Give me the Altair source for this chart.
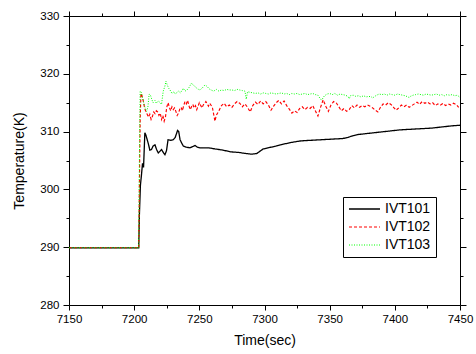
import altair as alt
import pandas as pd

series_names = ["IVT101", "IVT102", "IVT103"]
series_colors = ["#000000", "#ff0000", "#00ff00"]
series_dash = [[1, 0], [3, 2], [1, 1.5]]
series_width = [1.3, 1.0, 1.0]

x_tick_values = [7150, 7175, 7200, 7225, 7250, 7275, 7300, 7325, 7350, 7375, 7400, 7425, 7450]
y_tick_values = [280, 285, 290, 295, 300, 305, 310, 315, 320, 325, 330]

t_ivt101 = [7150, 7203.5, 7204.0, 7204.8, 7205.6, 7206.4, 7207.2, 7208.2, 7209.0, 7210.0,
            7211.0, 7212.0, 7213.3, 7214.5, 7216.0, 7217.2, 7218.5, 7219.8, 7221.0, 7222.3,
            7223.6, 7224.8, 7226.0, 7228.0, 7230.0, 7231.5, 7233.3, 7234.2, 7235.2, 7236.5,
            7237.7, 7240.0, 7242.8, 7244.8, 7246.7, 7248.5, 7250.5, 7254, 7257, 7262,
            7268, 7274, 7280, 7286, 7290, 7294, 7299, 7305, 7312, 7320,
            7328, 7336, 7344, 7352, 7360, 7364, 7368, 7372, 7380, 7388,
            7396, 7404, 7412, 7420, 7428, 7436, 7444, 7450]
v_ivt101 = [289.9, 289.9, 295.5, 300.7, 302.5, 304.5, 303.8, 309.8, 309.4, 308.6,
            307.8, 306.8, 306.9, 307.5, 307.7, 306.9, 306.3, 306.6, 306.9, 306.4,
            306.0, 306.7, 308.6, 308.5, 308.6, 309.0, 310.2, 310.0, 308.6, 308.0,
            307.5, 307.3, 307.2, 307.4, 307.6, 307.3, 307.2, 307.2, 307.2, 307.0,
            306.8, 306.5, 306.4, 306.2, 306.1, 306.2, 307.0, 307.3, 307.7, 308.1,
            308.4, 308.5, 308.6, 308.7, 308.8, 309.0, 309.3, 309.5, 309.7, 309.9,
            310.1, 310.3, 310.4, 310.5, 310.6, 310.8, 311.0, 311.1]

t_ivt102 = [7150, 7203.5, 7204.0, 7204.6, 7205.2, 7206, 7207, 7208, 7209, 7210,
            7211, 7212, 7213, 7214, 7215, 7216, 7217, 7218, 7219, 7220,
            7221, 7222, 7223, 7224, 7225, 7226, 7227, 7228, 7229, 7230,
            7231, 7232, 7233, 7234, 7235, 7236, 7237, 7238, 7239, 7240,
            7241, 7242, 7243, 7244, 7245, 7246, 7247, 7248, 7250, 7252,
            7253, 7255, 7257, 7258, 7260, 7262, 7263, 7265, 7267, 7269,
            7271, 7273, 7275, 7277, 7279, 7281, 7283, 7285, 7287, 7289,
            7291, 7293, 7295, 7297, 7299, 7301, 7303, 7305, 7307, 7309,
            7311, 7313, 7315, 7317, 7319, 7321, 7323, 7325, 7327, 7329,
            7331, 7333, 7335, 7337, 7339, 7341, 7343, 7345, 7347, 7349,
            7351, 7353, 7355, 7357, 7359, 7361, 7363, 7365, 7367, 7369,
            7371, 7373, 7375, 7377, 7379, 7381, 7383, 7385, 7387, 7389,
            7391, 7393, 7395, 7397, 7399, 7401, 7403, 7405, 7407, 7409,
            7411, 7413, 7415, 7417, 7419, 7421, 7423, 7425, 7427, 7429,
            7431, 7433, 7435, 7437, 7439, 7441, 7443, 7445, 7447, 7449]
v_ivt102 = [289.9, 289.9, 300.0, 312.0, 316.6, 316.2, 315.3, 314.1, 313.4, 313.0,
            312.5, 313.0, 312.1, 312.6, 313.4, 313.1, 313.6, 313.4, 312.8, 313.2,
            312.1, 312.8, 311.8, 312.5, 314.2, 315.0, 314.2, 313.6, 314.3, 313.8,
            314.1, 313.5, 312.8, 313.2, 313.9, 314.2, 313.6, 314.5, 315.2, 314.8,
            315.4, 314.5, 313.8, 314.3, 314.7, 314.1, 314.5, 313.8, 315.0, 314.1,
            314.6, 315.2, 314.4, 314.9, 314.2, 311.8, 312.8, 313.6, 314.5, 314.9,
            314.3, 314.6, 314.2, 314.8, 315.2, 314.9, 314.3, 314.8, 314.2, 313.4,
            314.5, 315.1, 314.7, 315.3, 314.8, 315.2, 314.6, 313.7, 314.4, 315.0,
            315.4, 314.8, 315.3, 314.5, 313.9, 313.2, 313.6, 313.3, 314.0, 314.3,
            313.8, 314.2, 314.0, 314.5, 313.6, 312.7, 314.2, 315.5, 314.4, 313.5,
            314.6, 315.2, 315.0, 314.3, 313.6, 314.0, 313.5, 313.8, 314.5, 314.1,
            314.6, 314.2, 314.5, 314.3, 314.6, 314.4, 314.1, 313.7, 313.4, 314.2,
            314.8, 314.6, 315.0, 314.7, 314.2, 313.7, 314.1, 314.6, 314.3, 314.6,
            314.2, 314.5, 314.8, 315.1, 314.7, 315.2, 314.9, 315.1, 314.8, 315.0,
            314.5, 314.8, 314.6, 314.9, 314.5, 314.8, 314.6, 314.9, 314.7, 314.2]

t_ivt103 = [7150, 7203.5, 7204.0, 7204.6, 7205.5, 7206.5, 7207.5, 7208.5, 7209.5, 7210.5,
            7211.5, 7212.5, 7213.5, 7214.5, 7216.0, 7217.0, 7218.5, 7220.0, 7221.0, 7222.3,
            7223.5, 7224.4, 7225.5, 7226.5, 7227.5, 7229.0, 7230.5, 7231.5, 7233.0, 7234.0,
            7235.5, 7237.7, 7239.0, 7240.5, 7242.0, 7244.0, 7245.5, 7246.7, 7248.5, 7250.5,
            7252.5, 7254.4, 7256.0, 7257.5, 7259.0, 7261.0, 7263.0, 7265.0, 7267.0, 7269.0,
            7271, 7273, 7275, 7277, 7279, 7281, 7283, 7285, 7286, 7287,
            7289, 7291, 7293, 7295, 7297, 7299, 7301, 7303, 7305, 7307,
            7309, 7311, 7313, 7315, 7317, 7319, 7321, 7323, 7325, 7327,
            7329, 7331, 7333, 7335, 7337, 7339, 7341, 7343, 7344, 7346,
            7348, 7350, 7352, 7354, 7356, 7358, 7360, 7362, 7364, 7365,
            7366, 7368, 7370, 7372, 7374, 7376, 7378, 7380, 7382, 7383,
            7384, 7386, 7388, 7390, 7392, 7394, 7396, 7398, 7400, 7402,
            7404, 7406, 7408, 7410, 7411, 7412, 7414, 7416, 7418, 7420,
            7422, 7424, 7426, 7428, 7430, 7432, 7434, 7436, 7438, 7440,
            7442, 7444, 7446, 7448, 7450]
v_ivt103 = [289.9, 289.9, 305.0, 317.0, 316.8, 315.8, 314.8, 314.0, 313.5, 314.2,
            316.5, 316.3, 315.6, 315.0, 315.4, 314.9, 315.3, 315.0, 314.7, 317.0,
            317.8, 318.7, 318.0, 317.5, 317.2, 316.6, 316.9, 316.5, 316.8, 317.0,
            316.7, 317.5, 317.0, 317.2, 317.6, 318.4, 318.0, 317.8, 317.4, 317.2,
            317.6, 318.1, 317.8, 317.4, 317.2, 317.0, 317.3, 317.0, 317.2, 317.1,
            317.3, 317.2, 317.2, 317.1, 317.3, 317.2, 317.1, 317.0, 315.6, 316.9,
            316.8, 316.7, 316.6, 316.7, 316.5, 316.7, 316.6, 316.5, 316.7, 316.6,
            316.5, 316.6, 316.7, 316.5, 316.6, 316.4, 316.6, 316.5, 316.6, 316.4,
            316.5, 316.6, 316.4, 316.5, 316.6, 316.4, 316.3, 315.6, 315.5, 316.2,
            316.5, 316.6, 316.4, 316.6, 316.3, 316.5, 316.4, 316.3, 316.1, 315.7,
            316.2, 316.3, 316.1, 316.2, 316.0, 316.2, 316.0, 316.1, 316.0, 315.8,
            316.0, 316.3, 316.5, 316.4, 316.5, 316.3, 316.5, 316.4, 316.3, 316.5,
            316.4, 316.3, 316.2, 316.0, 315.9, 316.1, 316.3, 316.4, 316.5, 316.4,
            316.3, 316.5, 316.4, 316.3, 316.4, 316.5, 316.3, 316.4, 316.2, 316.4,
            316.3, 316.4, 316.2, 316.3, 315.9]

rows = []
for name, ts, vs in [("IVT101", t_ivt101, v_ivt101),
                     ("IVT102", t_ivt102, v_ivt102),
                     ("IVT103", t_ivt103, v_ivt103)]:
    for t, v in zip(ts, vs):
        rows.append({"series": name, "time": t, "temp": v})
df = pd.DataFrame(rows)

FONT = "Liberation Sans"
x_scale = alt.Scale(domain=[7150, 7450], nice=False, zero=False)
y_scale = alt.Scale(domain=[280, 330], nice=False, zero=False)

x_tick_size = {"condition": {"test": "datum.value % 50 === 0", "value": 5}, "value": 3}
y_tick_size = {"condition": {"test": "datum.value % 10 === 0", "value": 6}, "value": 3}

common_axis = dict(grid=False, domainColor="black", tickColor="black", labelColor="black",
                   titleColor="black", labelFont=FONT, titleFont=FONT, labelFontSize=11.5,
                   titleFontSize=14, titleFontWeight="normal", labelFlush=False,
                   labelOverlap=False, domainWidth=1, tickWidth=1)

x_bottom = alt.Axis(orient="bottom", values=x_tick_values, format="d",
                    labelExpr="datum.value % 50 === 0 ? datum.label : ''",
                    tickSize=x_tick_size, labelPadding=3, titlePadding=9,
                    title="Time(sec)", **common_axis)
y_left = alt.Axis(orient="left", values=y_tick_values, format="d",
                  labelExpr="datum.value % 10 === 0 ? datum.label : ''",
                  tickSize=y_tick_size, labelPadding=4, titlePadding=13,
                  title="Temperature(K)", **common_axis)
x_top = alt.Axis(orient="top", values=x_tick_values, labels=False, title=None,
                 tickSize=x_tick_size, **common_axis)
y_right = alt.Axis(orient="right", values=y_tick_values, labels=False, title=None,
                   tickSize=y_tick_size, **common_axis)

legend = alt.Legend(orient="none", legendX=274, legendY=181, direction="vertical",
                    symbolType="stroke", symbolSize=961, symbolStrokeWidth=1.3,
                    clipHeight=14, labelFont=FONT, labelFontSize=14, labelColor="black",
                    strokeColor="black", fillColor="white", padding=5,
                    rowPadding=4, labelOffset=4, title=None)

lines = alt.Chart(df).mark_line(clip=True).encode(
    x=alt.X("time:Q", scale=x_scale, axis=x_bottom),
    y=alt.Y("temp:Q", scale=y_scale, axis=y_left),
    color=alt.Color("series:N", scale=alt.Scale(domain=series_names, range=series_colors),
                    legend=legend, title=None),
    strokeDash=alt.StrokeDash("series:N", scale=alt.Scale(domain=series_names, range=series_dash),
                              legend=legend, title=None),
    strokeWidth=alt.StrokeWidth("series:N", scale=alt.Scale(domain=series_names, range=series_width),
                                legend=None),
)

mirror = alt.Chart(df).mark_line(opacity=0, clip=True).encode(
    x=alt.X("time:Q", scale=x_scale, axis=x_top),
    y=alt.Y("temp:Q", scale=y_scale, axis=y_right),
    detail="series:N",
)

chart = alt.layer(lines, mirror).resolve_axis(
    x="independent", y="independent"
).properties(
    width=391, height=289,
    padding={"left": 69, "top": 16, "right": 16, "bottom": 49},
    autosize=alt.AutoSizeParams(type="none"),
    background="white",
).configure_view(stroke="transparent")

chart.save("out.html", embed_options={"renderer": "svg", "actions": False})
